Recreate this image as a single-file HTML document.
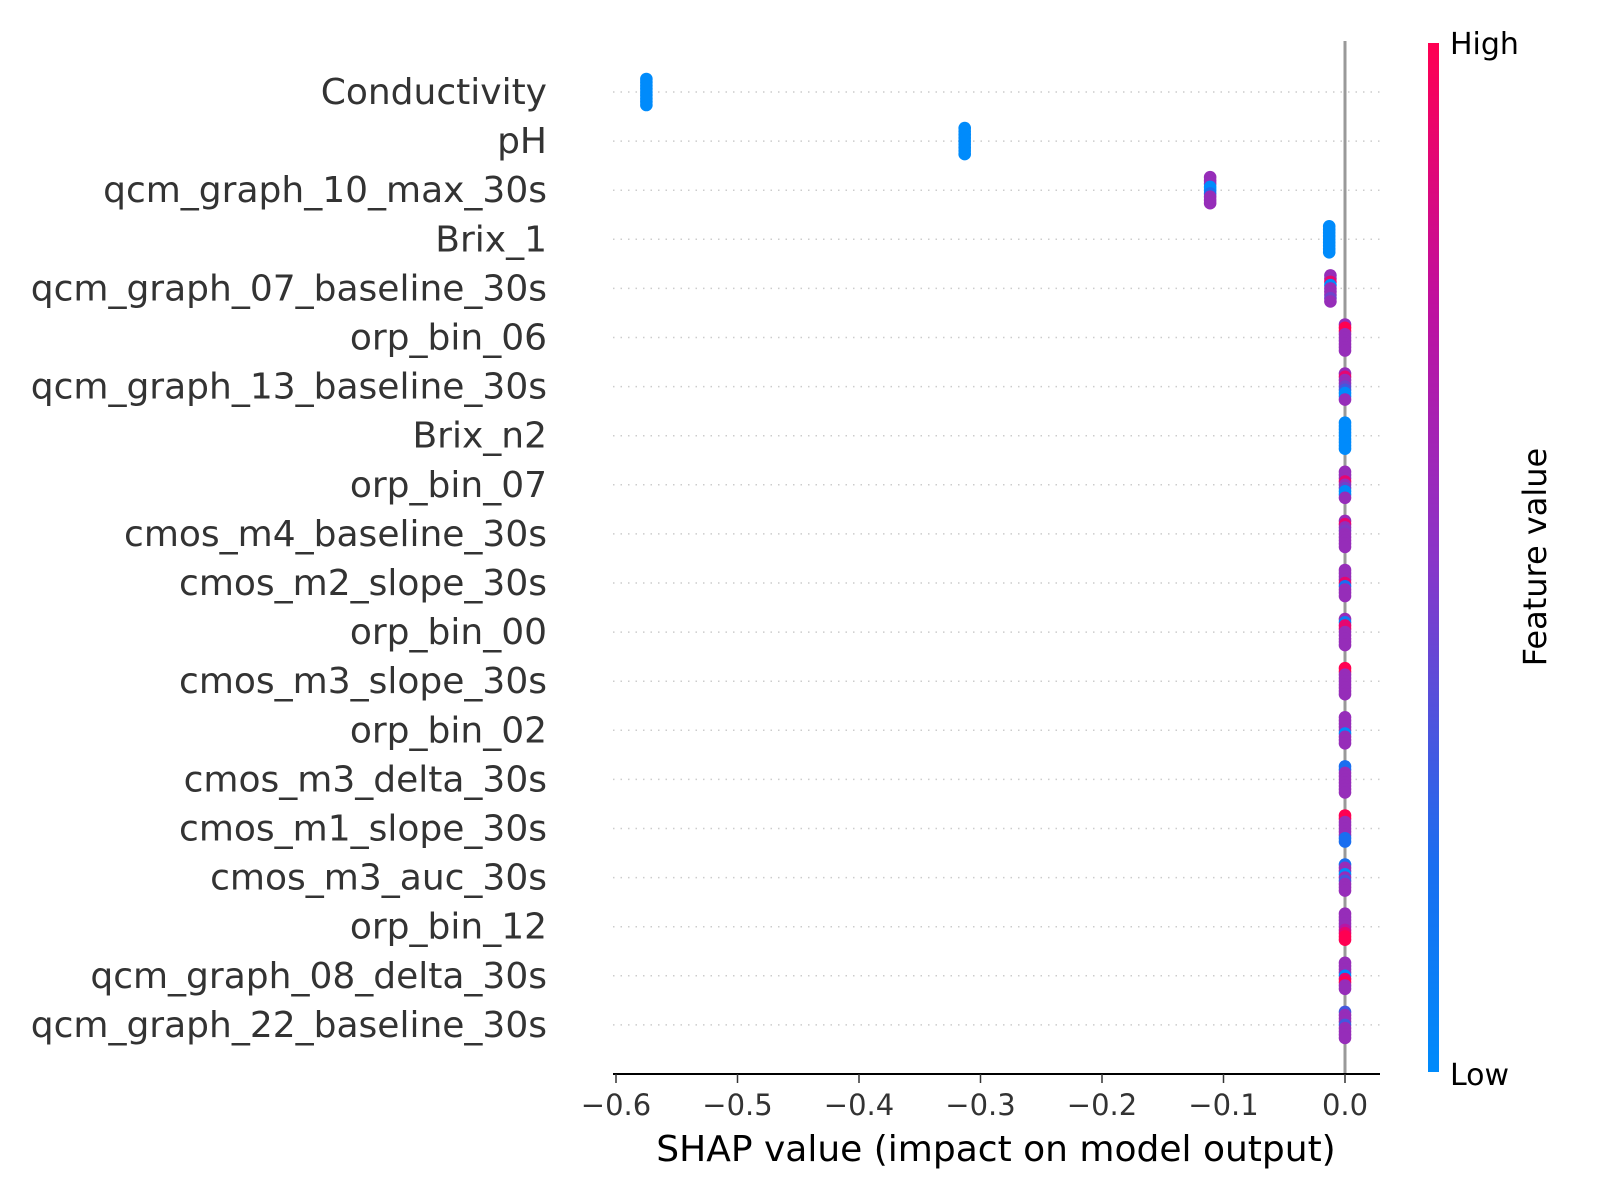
<!DOCTYPE html>
<html><head><meta charset="utf-8"><style>
html,body{margin:0;padding:0;background:#fff;}
svg{display:block;font-family:"DejaVu Sans","Liberation Sans",sans-serif;}
</style></head><body>
<svg id="chart" width="1600" height="1200" viewBox="0 0 1600 1200" xmlns="http://www.w3.org/2000/svg">
<defs>
<linearGradient id="cb" x1="0" y1="1" x2="0" y2="0">
<stop offset="0" stop-color="#008bfb"/><stop offset="0.2" stop-color="#1a6ef0"/><stop offset="0.5" stop-color="#8a35c8"/><stop offset="0.75" stop-color="#c0109e"/><stop offset="1" stop-color="#ff0052"/>
</linearGradient>
</defs>
<g id="grid"></g>
<line x1="1345" y1="41" x2="1345" y2="1074" stroke="#999" stroke-width="3"/>
<g id="points"></g>
<g id="labels"></g>
<line x1="613" y1="1074" x2="1380" y2="1074" stroke="#000" stroke-width="2"/>
<g id="xticks"></g>
<text x="996" y="1161" font-size="36" text-anchor="middle" fill="#000">SHAP value (impact on model output)</text>
<rect x="1428" y="43" width="11" height="1029" fill="url(#cb)"/>
<text x="1450" y="54" font-size="30" fill="#000">High</text>
<text x="1450" y="1085" font-size="30" fill="#000">Low</text>
<text transform="translate(1546,557) rotate(-90)" font-size="32" text-anchor="middle" fill="#000">Feature value</text>
</svg>
<script>
const features = ["Conductivity","pH","qcm_graph_10_max_30s","Brix_1","qcm_graph_07_baseline_30s","orp_bin_06","qcm_graph_13_baseline_30s","Brix_n2","orp_bin_07","cmos_m4_baseline_30s","cmos_m2_slope_30s","orp_bin_00","cmos_m3_slope_30s","orp_bin_02","cmos_m3_delta_30s","cmos_m1_slope_30s","cmos_m3_auc_30s","orp_bin_12","qcm_graph_08_delta_30s","qcm_graph_22_baseline_30s"];
const shapValues = [
 [-0.575,-0.575,-0.575,-0.575,-0.575,-0.575,-0.575,-0.575,-0.575],
 [-0.313,-0.313,-0.313,-0.313,-0.313,-0.313,-0.313,-0.313,-0.313],
 [-0.111,-0.111,-0.111,-0.111,-0.111,-0.111,-0.111,-0.111,-0.111],
 [-0.013,-0.013,-0.013,-0.013,-0.013,-0.013,-0.013,-0.013,-0.013],
 [-0.012,-0.012,-0.012,-0.012,-0.012,-0.012,-0.012,-0.012,-0.012],
 [0,0,0,0,0,0,0,0,0],[0,0,0,0,0,0,0,0,0],[0,0,0,0,0,0,0,0,0],[0,0,0,0,0,0,0,0,0],[0,0,0,0,0,0,0,0,0],
 [0,0,0,0,0,0,0,0,0],[0,0,0,0,0,0,0,0,0],[0,0,0,0,0,0,0,0,0],[0,0,0,0,0,0,0,0,0],[0,0,0,0,0,0,0,0,0],
 [0,0,0,0,0,0,0,0,0],[0,0,0,0,0,0,0,0,0],[0,0,0,0,0,0,0,0,0],[0,0,0,0,0,0,0,0,0],[0,0,0,0,0,0,0,0,0]
];
const featureValues = [
 [0,0,0,0,0,0,0,0,0],
 [0,0,0,0,0,0,0,0,0],
 [0.5,0.5,0.5,0,0,0.2,0.5,0.5,0.5],
 [0,0,0,0,0,0,0,0,0],
 [0.5,0.5,0.9,0,0.5,0.5,0.5,0.4,0.5],
 [0.5,1,1,0.5,0.5,0.5,0.5,0.5,0.5],
 [0.5,0.9,0.5,0.5,0.4,0.3,0,0,0.5],
 [0,0,0,0,0,0,0,0,0],
 [0.5,0.5,0.5,0.9,0.5,0.4,0,0,0.5],
 [0.5,0.9,0.5,0.45,0.5,0.5,0.5,0.5,0.5],
 [0.5,0.5,0.5,0.5,0.9,0.2,0.5,0.5,0.5],
 [0.5,0.1,0.9,0.9,0.5,0.5,0.5,0.5,0.5],
 [1,1,0.5,0.5,0.5,0.5,0.5,0.5,0.5],
 [0.5,0.5,0.5,0.5,0.5,0,0.5,0.5,0.5],
 [0.2,0.2,0.5,0.5,0.5,0.5,0.5,0.5,0.5],
 [1,1,0.5,0.5,0.5,0.5,0.5,0.2,0.2],
 [0.2,0.5,0.5,0,0.5,0.3,0.5,0.5,0.5],
 [0.5,0.5,0.5,0.5,0.5,0.7,0.9,1,1],
 [0.5,0.5,0.5,0.5,0,0.9,1,0.5,0.5],
 [0.3,0.5,0.5,0.5,0.3,0.5,0.5,0.5,0.5]
];
const xTicks = [-0.6,-0.5,-0.4,-0.3,-0.2,-0.1,0.0];
const xTickLabels = ["\u22120.6","\u22120.5","\u22120.4","\u22120.3","\u22120.2","\u22120.1","0.0"];

const NS="http://www.w3.org/2000/svg";
const x = v => 1345 + v*1215;
const y = i => 92 + i*49.1;
const stops=[[0,[0,139,251]],[0.2,[26,110,240]],[0.5,[150,45,185]],[0.75,[192,16,158]],[1,[255,0,82]]];
function color(t){for(let k=1;k<stops.length;k++){if(t<=stops[k][0]){const a=stops[k-1],b=stops[k];const f=(t-a[0])/(b[0]-a[0]);const c=a[1].map((v,j)=>Math.round(v+(b[1][j]-v)*f));return `rgb(${c.join(',')})`;}}return 'rgb(255,0,82)';}
function mk(tag,attrs,parent){const e=document.createElementNS(NS,tag);for(const k in attrs)e.setAttribute(k,attrs[k]);parent.appendChild(e);return e;}
const grid=document.getElementById('grid'),pts=document.getElementById('points'),lab=document.getElementById('labels'),xt=document.getElementById('xticks');
features.forEach((f,i)=>{
  const g=mk('line',{x1:613,x2:1380,y1:y(i),y2:y(i),stroke:'#ccc','stroke-width':1.5,'stroke-dasharray':'1.5 6'},grid);
  
  
  const t=mk('text',{x:547,y:y(i)+12,'font-size':36,'text-anchor':'end',fill:'#333'},lab);
  t.textContent=f;
  
  
  const vals=shapValues[i],n=vals.length;
  vals.forEach((v,k)=>{
    const off=-13+26*k/(n-1);
    const c=mk('circle',{cx:x(v),cy:y(i)+off,r:6.3,fill:color(featureValues[i][k])},pts);
    
    
  });
});
xTicks.forEach((v,k)=>{
  const l=mk('line',{x1:x(v),x2:x(v),y1:1074,y2:1083,stroke:'#333','stroke-width':1.5},xt);
  
  
  const t=mk('text',{x:x(v),y:1115,'font-size':29,'text-anchor':'middle',fill:'#333'},xt);
  t.textContent=xTickLabels[k];
  
  
});
</script>
</body></html>
